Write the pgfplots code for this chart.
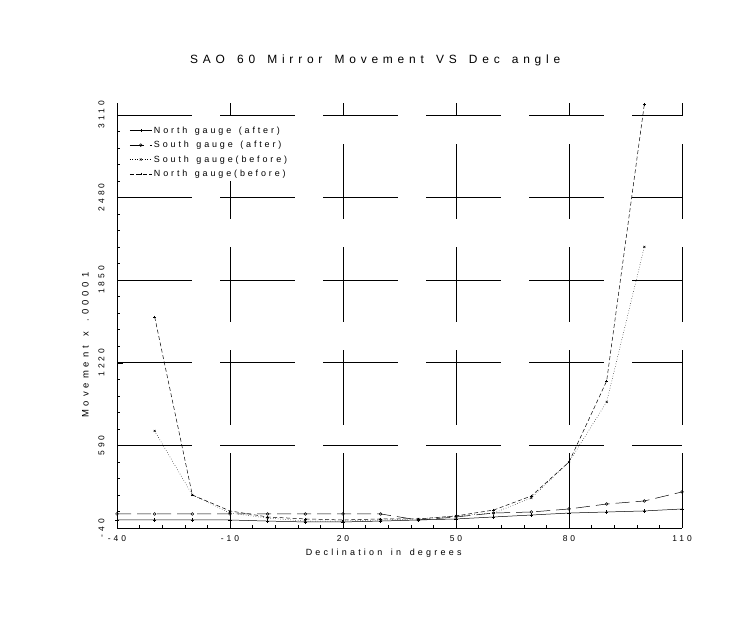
\documentclass[border=0pt]{standalone}
\usepackage{fontspec}
\setmainfont{Liberation Sans}[LetterSpace=25]
\newfontfamily\titlefont{Liberation Sans}[LetterSpace=40,WordSpace=1.5]
\newfontfamily\labelfont{Liberation Sans}[LetterSpace=36,WordSpace=1.5]
\newfontfamily\ylabfont{Liberation Sans}[LetterSpace=42,WordSpace=1.5]
\newfontfamily\legfont{Liberation Sans}[LetterSpace=32,WordSpace=1.4]
\newfontfamily\tickfont{Liberation Sans}[LetterSpace=35]
\usepackage{pgfplots}
\pgfplotsset{compat=1.18}
\begin{document}
\begin{tikzpicture}
\path[use as bounding box] (0,0) rectangle (756bp,629bp);
\begin{axis}[
  at={(117bp,101bp)}, anchor=south west,
  scale only axis, width=565bp, height=425bp,
  xmin=-40, xmax=110, ymin=-40, ymax=3200,
  xtick={-40,-10,20,50,80,110},
  ytick={-40,590,1220,1850,2480,3110},
  minor x tick num=4, minor y tick num=4,
  axis x line*=bottom, axis y line*=left,
  axis line style={black, line width=0.4pt, -},
  tick align=inside,
  tick style={black, line width=0.4pt},
  major tick length=6bp, minor tick length=3bp,
  grid=major,
  major grid style={black, line width=0.5pt, dash pattern=on 75bp off 28bp},
  /pgf/number format/assume math mode=true,
  /pgf/number format/set thousands separator={},
  tick label style={font=\tickfont\fontsize{8.5}{9}\selectfont},
  yticklabel style={rotate=90, anchor=south},
  yticklabel shift=9bp,
  xticklabel shift=4bp,
  title={SAO 60 Mirror Movement VS Dec angle},
  title style={font=\titlefont\fontsize{12}{13}\selectfont, at={(axis description cs:0.457,1.087)}, anchor=center, yshift=0pt},
  xlabel={Declination in degrees},
  xlabel style={font=\labelfont\fontsize{9}{10}\selectfont, at={(axis description cs:0.472,-0.059)}, anchor=center, yshift=0pt},
  ylabel={Movement x .00001},
  ylabel style={font=\ylabfont\fontsize{9.5}{10}\selectfont, at={(axis description cs:-0.056,0.43)}, anchor=center, rotate=0},
  legend style={at={(axis description cs:0.02,0.952)}, anchor=north west, draw=none, fill=white,
    font=\legfont\fontsize{9}{10}\selectfont, row sep=2.5bp, inner sep=1bp},
  legend cell align=left,
  legend image code/.code={\draw[mark repeat=2, mark phase=2, #1] plot coordinates {(0bp,0bp) (11bp,0bp) (22bp,0bp)};},
  legend image post style={mark size=1.4pt},
]
% North gauge (after)
\addplot[black, line width=0.5pt, mark=+, mark size=1.6pt] coordinates {
(-40,21) (-30,21) (-20,21) (-10,21) (0,13) (10,6) (20,6) (30,13) (40,21)
(50,29) (60,44) (70,59) (80,74) (90,82) (100,90) (110,105)};
\addlegendentry{North gauge (after)}
% South gauge (after)
\addplot[black, line width=0.5pt, dash pattern=on 14bp off 6bp, mark=o, mark size=1.4pt, mark options={solid}] coordinates {
(-40,67) (-30,67) (-20,67) (-10,67) (0,67) (10,67) (20,67) (30,67) (40,21)
(50,44) (60,74) (70,82) (80,105) (90,143) (100,166) (110,235)};
\addlegendentry{South gauge (after)}
% South gauge (before)
\addplot[black, line width=0.5pt, dotted, mark=x, mark size=1.4pt, mark options={solid}] coordinates {
(-30,700) (-20,212) (-10,74) (0,36) (10,13) (20,13) (30,21) (40,29)
(50,52) (60,74) (70,189) (80,463) (90,921) (100,2103)};
\addlegendentry{South gauge(before)}
% North gauge (before)
\addplot[black, line width=0.5pt, dash pattern=on 4bp off 2.5bp, mark=+, mark size=1.4pt, mark options={solid}] coordinates {
(-30,1569) (-20,212) (-10,90) (0,44) (10,29) (20,21) (30,29) (40,29)
(50,52) (60,97) (70,204) (80,463) (90,1081) (100,3190)};
\addlegendentry{North gauge(before)}
\end{axis}
\end{tikzpicture}
\end{document}
